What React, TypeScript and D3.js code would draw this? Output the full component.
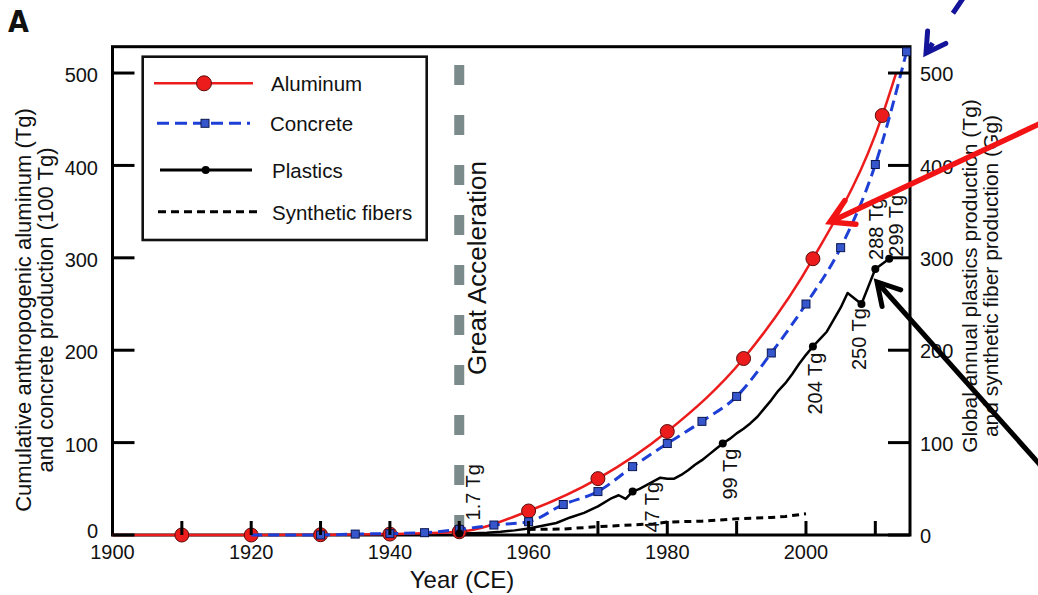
import React from "react";
import * as d3 from "d3";

// Cumulative aluminum (Tg) and concrete (100 Tg) production
const aluminumYears = [1900, 1910, 1920, 1930, 1940, 1950, 1960, 1970, 1980, 1991, 2001, 2011, 2013];
const aluminumValues = [0, 0, 0, 0.3, 1, 3.5, 26, 61, 112, 191, 299, 454, 500];

const concreteYears = [1920, 1925, 1930, 1935, 1940, 1945, 1950, 1955, 1960, 1965, 1970, 1975, 1980, 1985, 1990, 1995, 2000, 2005, 2010, 2014.5];
const concreteValues = [0, 0, 0, 1, 1.5, 2.5, 6, 10.8, 14.4, 33, 47, 74, 99, 123, 150, 197, 250, 311, 401, 523];

// Global annual plastics production (Tg)
const plasticsYears = [1950, 1952, 1954, 1956, 1958, 1960, 1962, 1964, 1966, 1968, 1970, 1972, 1973, 1974, 1975, 1976, 1977, 1978, 1979, 1980, 1981, 1982, 1983, 1984, 1985, 1986, 1987, 1988, 1989, 1990, 1991, 1992, 1993, 1994, 1995, 1996, 1997, 1998, 1999, 2000, 2001, 2002, 2003, 2004, 2005, 2006, 2008, 2010, 2012];
const plasticsValues = [1.7, 2, 2.5, 3.5, 5, 7, 10, 13, 19, 24, 31, 40, 43, 39, 47, 50, 54, 58, 62, 61, 61, 65, 70, 76, 81, 87, 93, 99, 104, 110, 115, 121, 128, 137, 146, 156, 164, 174, 185, 195, 204, 212, 220, 233, 246, 262, 250, 288, 299];

// Labelled plastics milestones
const milestoneYears = [1950, 1975, 1988, 2001, 2008, 2010, 2012];
const milestoneValues = [1.7, 47, 99, 204, 250, 288, 299];
// label placement relative to each milestone dot: [dx, dy]
const milestoneLabelOffsets = [[21, -13], [26, 41], [14, 56], [9, 68], [5, 66], [8, -9], [14, -2]];

// Synthetic fiber production (Gg)
const fiberYears = [1960, 1965, 1970, 1975, 1978, 1980, 1985, 1990, 1995, 1997, 2000];
const fiberValues = [6, 6.5, 9, 11, 12, 14, 15, 17.5, 19, 20, 23];

const yTickValues = [0, 100, 200, 300, 400, 500];
const xMinorTicks = [1910, 1920, 1930, 1940, 1950, 1960, 1970, 1980, 1990, 2000, 2010];
const xTickLabels = [1900, 1920, 1940, 1960, 1980, 2000];
const greatAccelerationYear = 1950;

const FONT = "'Liberation Sans', Arial, Helvetica, sans-serif";
const RED = "#ec1c1c";
const BLUE = "#1e3fd6";
const SQUARE_FILL = "#3657cc";
const NAVY = "#14149a";

type Pt = [number, number];
const zip = (a: number[], b: number[]): Pt[] => a.map((v, i) => [v, b[i]]);

export default function App() {
  const x = d3.scaleLinear().domain([1900, 2015]).range([112.5, 910]);
  const y = d3.scaleLinear().domain([0, 528.5]).range([535, 46.7]);
  const left = x(1900);
  const right = x(2015);
  const top = y(528.5);
  const bottom = y(0);

  const smooth = d3.line<Pt>().x((d) => x(d[0])).y((d) => y(d[1])).curve(d3.curveMonotoneX);
  const straight = d3.line<Pt>().x((d) => x(d[0])).y((d) => y(d[1]));

  const aluminum = zip(aluminumYears, aluminumValues);
  const concrete = zip(concreteYears, concreteValues);
  const plastics = zip(plasticsYears, plasticsValues);
  const fibers = zip(fiberYears, fiberValues);
  const milestones = zip(milestoneYears, milestoneValues);

  const aluminumMarkers = aluminum.slice(1, -1);
  const concreteMarkers = concrete.filter((d) => d[0] >= 1930);

  const gx = x(greatAccelerationYear);

  // annotation arrow heads
  const arrowHead = (tip: Pt, tail: Pt, len: number) => {
    const dx = tail[0] - tip[0];
    const dy = tail[1] - tip[1];
    const n = Math.hypot(dx, dy);
    const ux = dx / n;
    const uy = dy / n;
    const c = Math.cos(Math.PI / 6);
    const s = Math.sin(Math.PI / 6);
    const a: Pt = [tip[0] + len * (ux * c - uy * s), tip[1] + len * (ux * s + uy * c)];
    const b: Pt = [tip[0] + len * (ux * c + uy * s), tip[1] + len * (-ux * s + uy * c)];
    return `M${a[0]},${a[1]}L${tip[0]},${tip[1]}L${b[0]},${b[1]}`;
  };

  const redTip: Pt = [830, 222];
  const redTail: Pt = [1052, 118];
  const blackTip: Pt = [877, 282];
  const blackTail: Pt = [1050, 476];
  const blueTip: Pt = [926, 53];
  const blueTail: Pt = [968, -9];

  return (
    <svg
      width={1038}
      height={595}
      viewBox="0 0 1038 595"
      style={{ position: "absolute", left: 0, top: 0, background: "#fff" }}
      fontFamily={FONT}
    >
      <rect x={0} y={0} width={1038} height={595} fill="#fff" />

      {/* panel letter */}
      <text x={8} y={32} fontSize={30} fontWeight="bold" fontFamily="'Liberation Sans Narrow', 'DejaVu Sans Condensed', Arial, sans-serif" fill="#111">
        A
      </text>

      {/* Great Acceleration marker */}
      <line x1={gx} x2={gx} y1={65} y2={bottom} stroke="#7b8a8a" strokeWidth={10} strokeDasharray="20 30" />
      <text transform={`translate(${gx + 27},${268}) rotate(-90)`} textAnchor="middle" fontSize={26} fill="#111">
        Great Acceleration
      </text>

      {/* plot frame */}
      <rect x={left} y={top} width={right - left} height={bottom - top} fill="none" stroke="#000" strokeWidth={3} />

      {/* synthetic fibers */}
      <path d={straight(fibers) ?? ""} fill="none" stroke="#000" strokeWidth={3} strokeDasharray="7 5" />

      {/* plastics */}
      <path d={straight(plastics) ?? ""} fill="none" stroke="#000" strokeWidth={2.5} strokeLinejoin="round" />

      {/* aluminum */}
      <path d={smooth(aluminum) ?? ""} fill="none" stroke={RED} strokeWidth={2.5} />
      {aluminumMarkers.map((d, i) => (
        <circle key={`al${i}`} cx={x(d[0])} cy={y(d[1])} r={7} fill={RED} stroke="#5a0a0a" strokeWidth={1} />
      ))}

      {/* concrete */}
      <path d={smooth(concrete) ?? ""} fill="none" stroke={BLUE} strokeWidth={3} strokeDasharray="11 6" />
      {concreteMarkers.map((d, i) => (
        <rect key={`co${i}`} x={x(d[0]) - 4} y={y(d[1]) - 4} width={8} height={8} fill={SQUARE_FILL} stroke="#0b1650" strokeWidth={1} />
      ))}

      {/* plastics milestones */}
      {milestones.map((d, i) => (
        <circle key={`pm${i}`} cx={x(d[0])} cy={y(d[1])} r={4} fill="#000" />
      ))}
      {milestones.map((d, i) => (
        <text
          key={`pl${i}`}
          transform={`translate(${x(d[0]) + milestoneLabelOffsets[i][0]},${y(d[1]) + milestoneLabelOffsets[i][1]}) rotate(-90)`}
          fontSize={20}
          fill="#111"
        >
          {`${d[1]} Tg`}
        </text>
      ))}

      {/* ticks (inward) */}
      {yTickValues.map((v) => (
        <g key={`yt${v}`}>
          <line x1={left} x2={left + 22} y1={y(v)} y2={y(v)} stroke="#000" strokeWidth={3} />
          <line x1={right - 22} x2={right} y1={y(v)} y2={y(v)} stroke="#000" strokeWidth={3} />
          <text x={98} y={v === 0 ? y(v) - 4 : y(v) + 2} dy="0.36em" textAnchor="end" fontSize={20} fill="#111">
            {v}
          </text>
          <text x={920} y={y(v) + 1} dy="0.36em" textAnchor="start" fontSize={20} fill="#111">
            {v}
          </text>
        </g>
      ))}
      {xMinorTicks.map((v) => (
        <line key={`xt${v}`} x1={x(v)} x2={x(v)} y1={bottom} y2={bottom - 14} stroke="#000" strokeWidth={3} />
      ))}
      {xTickLabels.map((v) => (
        <text key={`xl${v}`} x={x(v)} y={559} textAnchor="middle" fontSize={20} fill="#111">
          {v}
        </text>
      ))}

      {/* axis titles */}
      <text x={462} y={588} textAnchor="middle" fontSize={24} fill="#111">
        Year (CE)
      </text>
      <g fontSize={22} fill="#111" textAnchor="middle">
        <text transform={`translate(31,310) rotate(-90)`}>Cumulative anthropogenic aluminum (Tg)</text>
        <text transform={`translate(53,310) rotate(-90)`}>and concrete production (100 Tg)</text>
      </g>
      <g fontSize={21} fill="#111" textAnchor="middle">
        <text transform={`translate(977,276) rotate(-90)`}>Global annual plastics production (Tg)</text>
        <text transform={`translate(998,276) rotate(-90)`}>and synthetic fiber production (Gg)</text>
      </g>

      {/* legend */}
      <g>
        <rect x={142.7} y={56.7} width={284} height={183.3} fill="#fff" stroke="#111" strokeWidth={2.6} />
        <line x1={154} x2={253} y1={83.3} y2={83.3} stroke={RED} strokeWidth={2.5} />
        <circle cx={204} cy={83.3} r={7.5} fill={RED} stroke="#5a0a0a" strokeWidth={1} />
        <text x={271} y={83.3} dy={8} fontSize={20.5} fill="#111">Aluminum</text>

        <line x1={157} x2={250} y1={123.3} y2={123.3} stroke={BLUE} strokeWidth={3} strokeDasharray="12 6" />
        <rect x={201} y={119.3} width={8} height={8} fill={SQUARE_FILL} stroke="#0b1650" strokeWidth={1} />
        <text x={270} y={123.3} dy={8} fontSize={20.5} fill="#111">Concrete</text>

        <line x1={160} x2={252} y1={170} y2={170} stroke="#000" strokeWidth={3} />
        <circle cx={205.7} cy={170} r={4} fill="#000" />
        <text x={272} y={170} dy={8} fontSize={20.5} fill="#111">Plastics</text>

        <line x1={158} x2={257} y1={211.7} y2={211.7} stroke="#000" strokeWidth={3} strokeDasharray="8 5" />
        <text x={272} y={211.7} dy={8} fontSize={20.5} fill="#111">Synthetic fibers</text>
      </g>

      {/* annotation arrows */}
      <line x1={redTail[0]} y1={redTail[1]} x2={redTip[0]} y2={redTip[1]} stroke="#f21414" strokeWidth={5.5} />
      <path d={arrowHead(redTip, redTail, 26)} fill="none" stroke="#f21414" strokeWidth={5.5} strokeLinecap="round" />

      <line x1={blackTail[0]} y1={blackTail[1]} x2={blackTip[0]} y2={blackTip[1]} stroke="#000" strokeWidth={5} />
      <path d={arrowHead(blackTip, blackTail, 25)} fill="none" stroke="#000" strokeWidth={5} strokeLinecap="round" />

      <line x1={blueTip[0]} y1={blueTip[1]} x2={blueTail[0]} y2={blueTail[1]} stroke={NAVY} strokeWidth={5} strokeDasharray="12 36 40" />
      <path d={arrowHead(blueTip, blueTail, 22)} fill="none" stroke={NAVY} strokeWidth={5} strokeLinecap="round" />
    </svg>
  );
}
